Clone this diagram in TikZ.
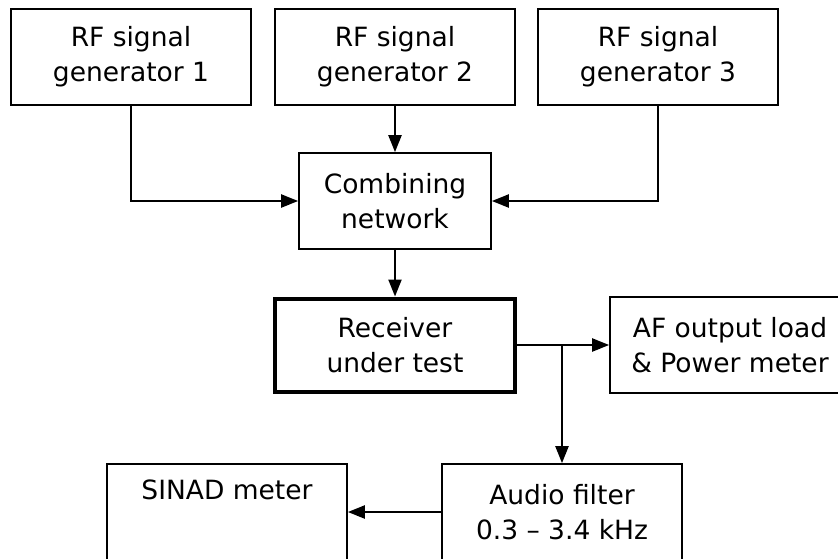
\documentclass[tikz,border=0pt]{standalone}
\usepackage{fontspec}
\setmainfont{DejaVu Sans}
\usetikzlibrary{arrows.meta}
\begin{document}
\begin{tikzpicture}[x=1pt,y=-1pt,
  box/.style={draw, line width=1.7pt, minimum width=240pt, minimum height=96pt, inner sep=0pt, align=center,
    font=\fontsize{26.5}{35}\selectfont},
  conn/.style={line width=2.2pt, -{Triangle[length=17pt,width=13pt]}}]
\clip (0,0) rectangle (838,558);
\fill[white] (0,0) rectangle (838,558);
\node[box] (g1) at (131,57) {RF signal\\generator 1};
\node[box] (g2) at (395,57) {RF signal\\generator 2};
\node[box] (g3) at (658,57) {RF signal\\generator 3};
\node[box, minimum width=192pt] (cn) at (395,201) {Combining\\network};
\node[box, line width=4pt, minimum width=240pt, minimum height=93pt] (rx) at (395,345) {Receiver\\under test};
\node[box] (af) at (730,345) {AF output load\\\& Power meter};
\node[box] (flt) at (562,512) {Audio filter\\0.3 – 3.4 kHz};
\node[box] (sn) at (227,512) {SINAD meter\\\strut};
\coordinate (br) at (flt.north |- rx.east);
\draw[conn] (g1.south) |- (cn.west);
\draw[conn] (g2.south) -- (cn.north);
\draw[conn] (g3.south) |- (cn.east);
\draw[conn] (cn.south) -- (rx.north);
\draw[conn] (rx.east) -- (af.west);
\draw[conn] (br) -- (flt.north);
\draw[conn] (flt.west |- sn.east) -- (sn.east);
\end{tikzpicture}
\end{document}
